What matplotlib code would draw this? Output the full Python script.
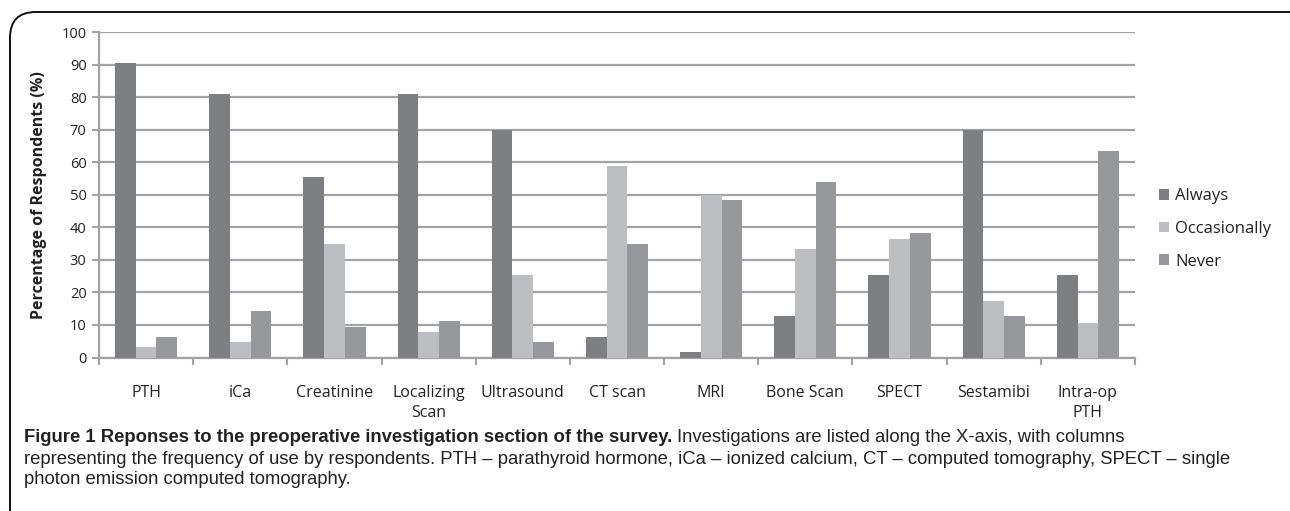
import matplotlib
matplotlib.use("Agg")
import matplotlib.pyplot as plt
from matplotlib.patches import FancyBboxPatch
import numpy as np

categories = ["PTH", "iCa", "Creatinine", "Localizing\nScan", "Ultrasound", "CT scan",
              "MRI", "Bone Scan", "SPECT", "Sestamibi", "Intra-op\nPTH"]
always = [90.5, 81.0, 55.6, 81.0, 69.8, 6.3, 1.6, 12.7, 25.4, 69.8, 25.4]
occasionally = [3.2, 4.8, 34.9, 7.9, 25.4, 58.7, 50.0, 33.3, 36.5, 17.5, 10.5]
never = [6.3, 14.3, 9.5, 11.1, 4.8, 34.9, 48.4, 54.0, 38.1, 12.7, 63.5]
series_names = ["Always", "Occasionally", "Never"]
yticks = list(range(0, 101, 10))

colors = ["#7e7f83", "#bdbec2", "#97989c"]
plt.rcParams['font.family'] = ['Open Sans', 'DejaVu Sans']

W, H = 1290, 511
fig = plt.figure(figsize=(W/100, H/100), dpi=100)
ax = fig.add_axes([99/W, 1-357.5/H, (1135-99)/W, (357.5-32)/H])

x = np.arange(len(categories))
bw = 0.22
for i, (vals, c, nm) in enumerate(zip([always, occasionally, never], colors, series_names)):
    ax.bar(x + (i-1)*bw, vals, width=bw, color=c, label=nm, zorder=3)

ax.set_xlim(-0.5, len(categories)-0.5)
ax.set_ylim(0, 100)
ax.set_yticks(yticks)
ax.set_yticklabels([str(v) for v in yticks], fontsize=10.5, color="#222222")
ax.yaxis.grid(True, color="#a3a3a3", lw=1.6, zorder=0)
ax.set_axisbelow(True)
ax.set_xticks(x)
ax.set_xticklabels(categories, fontsize=11.5, color="#222222", linespacing=1.3)
ax.set_xticks(np.arange(-0.5, len(categories)), minor=True)
ax.tick_params(axis='x', which='major', length=0, pad=20)
ax.tick_params(axis='x', which='minor', length=5, width=1.5, color="#a3a3a3", direction='out')
ax.tick_params(axis='y', length=5, width=1.5, color="#a3a3a3", pad=4)
for s in ["top", "right"]:
    ax.spines[s].set_visible(False)
for s in ["left", "bottom"]:
    ax.spines[s].set_color("#a3a3a3")
    ax.spines[s].set_linewidth(1.6)
ax.set_ylabel("Percentage of Respondents (%)", fontsize=11.5, fontweight='bold', color="#222222", labelpad=10)

leg = ax.legend(loc='center left', bbox_to_anchor=(1.0165, (357.5-229)/325.5), frameon=False, fontsize=12,
                handlelength=0.6, handleheight=0.6, handletextpad=0.4, labelspacing=1.0,
                borderaxespad=0)
for t in leg.get_texts():
    t.set_color("#222222")

# rounded border box
box = FancyBboxPatch((10/W, -0.2), 1.2, 1-12/H+0.2, boxstyle="round,pad=0,rounding_size=0.02",
                     transform=fig.transFigure, fill=False, ec="#111111", lw=1.4, mutation_aspect=W/H)
fig.patches.append(box)

cap_kw = dict(family=['Liberation Sans', 'DejaVu Sans'], fontsize=13.3, color="#222222", va='center', ha='left')
t1 = fig.text(24/W, 1-437/H, "Figure 1 Reponses to the preoperative investigation section of the survey.",
              fontweight='bold', **cap_kw)
fig.canvas.draw()
bb = t1.get_window_extent()
fig.text(bb.x1/W + 5/W, 1-437/H, "Investigations are listed along the X-axis, with columns", **cap_kw)
fig.text(24/W, 1-459/H, "representing the frequency of use by respondents. PTH \u2013 parathyroid hormone, iCa \u2013 ionized calcium, CT \u2013 computed tomography, SPECT \u2013 single", **cap_kw)
fig.text(24/W, 1-480/H, "photon emission computed tomography.", **cap_kw)

fig.savefig("out.png", dpi=100)
